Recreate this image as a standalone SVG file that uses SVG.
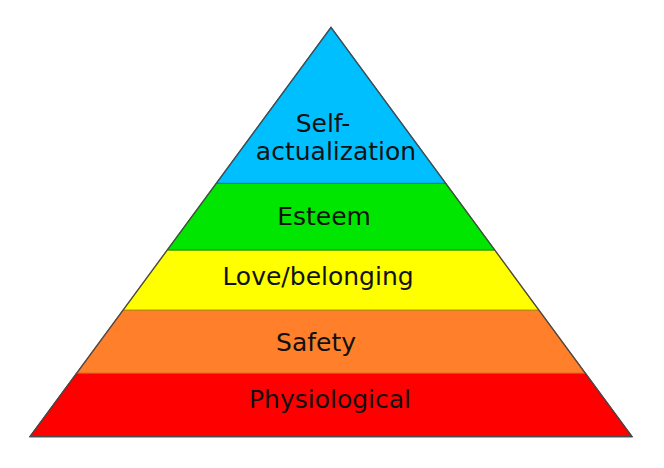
<svg xmlns="http://www.w3.org/2000/svg" width="664" height="468" viewBox="0 0 664 468">
<style>
.band{stroke-width:1.2;stroke-linejoin:round}
.lbl{font-family:"DejaVu Sans",Verdana,sans-serif;font-size:25px;fill:#111;text-anchor:middle}
</style>
<rect width="664" height="468" fill="#fff"/>
<g id="physiological">
<polygon class="band" points="76.6,373.3 585.4,373.3 632,436.7 30,436.7" fill="#ff0000" stroke="#b00000"/>
<text class="lbl" x="330" y="408">Physiological</text>
</g>
<g id="safety">
<polygon class="band" points="123.2,310 538.8,310 585.4,373.3 76.6,373.3" fill="#ff7f2a" stroke="#b85a1a"/>
<text class="lbl" x="316" y="351">Safety</text>
</g>
<g id="love">
<polygon class="band" points="167.3,250 494.7,250 538.8,310 123.2,310" fill="#ffff00" stroke="#b0a000"/>
<text class="lbl" x="318" y="284.5">Love/belonging</text>
</g>
<g id="esteem">
<polygon class="band" points="216.3,183.3 445.7,183.3 494.7,250 167.3,250" fill="#00e600" stroke="#00a000"/>
<text class="lbl" x="324" y="225">Esteem</text>
</g>
<g id="self-actualization">
<polygon class="band" points="331,27.3 445.7,183.3 216.3,183.3" fill="#00bfff" stroke="#0080b0"/>
<text class="lbl" x="323" y="131.5">Self-</text>
<text class="lbl" x="336" y="160">actualization</text>
</g>
<g id="connectors">
<polygon points="331,27.3 632,436.7 30,436.7" fill="none" stroke="#4a4a4a" stroke-width="1.3" stroke-linejoin="miter"/>
</g>
</svg>
